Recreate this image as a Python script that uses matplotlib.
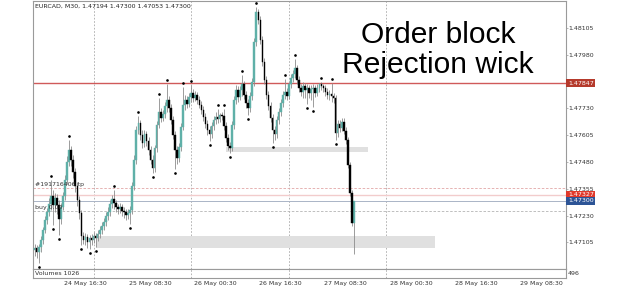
import numpy as np
import matplotlib
matplotlib.use('Agg')
import matplotlib.pyplot as plt
import matplotlib.transforms as mtransforms
from matplotlib.patches import Rectangle

# --- Data: EURCAD M30 candles ---
opens = [
    1.47069, 1.47078, 1.47059, 1.47083, 1.47116, 1.47162, 1.47209, 1.47246, 1.47283, 1.47321,
    1.47279, 1.47311, 1.47279, 1.47213, 1.47269, 1.47321, 1.47395, 1.47479, 1.47535, 1.47489,
    1.47433, 1.47367, 1.47302, 1.47241, 1.47134, 1.47116, 1.47129, 1.47106, 1.47125, 1.47116,
    1.47134, 1.47125, 1.47143, 1.47162, 1.47181, 1.47199, 1.47227, 1.47246, 1.47283, 1.47307,
    1.47288, 1.47269, 1.47260, 1.47269, 1.47251, 1.47246, 1.47232, 1.47241, 1.47255, 1.47367,
    1.47489, 1.47629, 1.47662, 1.47606, 1.47568, 1.47610, 1.47577, 1.47535, 1.47489, 1.47451,
    1.47545, 1.47652, 1.47713, 1.47685, 1.47704, 1.47741, 1.47769, 1.47732, 1.47676, 1.47606,
    1.47535, 1.47498, 1.47549, 1.47643, 1.47746, 1.47769, 1.47750, 1.47783, 1.47802, 1.47778,
    1.47792, 1.47769, 1.47746, 1.47722, 1.47690, 1.47657, 1.47629, 1.47610, 1.47648, 1.47676,
    1.47690, 1.47680, 1.47699, 1.47694, 1.47648, 1.47592, 1.47554, 1.47545, 1.47652, 1.47769,
    1.47816, 1.47783, 1.47816, 1.47844, 1.47792, 1.47755, 1.47732, 1.47788, 1.47853, 1.48040,
    1.48180, 1.48143, 1.48049, 1.47946, 1.47862, 1.47792, 1.47741, 1.47685, 1.47629, 1.47610,
    1.47676, 1.47713, 1.47755, 1.47792, 1.47806, 1.47788, 1.47844, 1.47872, 1.47890, 1.47918,
    1.47862, 1.47825, 1.47806, 1.47834, 1.47816, 1.47825, 1.47802, 1.47820, 1.47825, 1.47802,
    1.47825, 1.47844, 1.47834, 1.47825, 1.47806, 1.47792, 1.47797, 1.47788, 1.47778, 1.47615,
    1.47657, 1.47638, 1.47666, 1.47624, 1.47582, 1.47465, 1.47335, 1.47194,
]
closes = [
    1.47078, 1.47059, 1.47083, 1.47116, 1.47162, 1.47209, 1.47246, 1.47283, 1.47321, 1.47279,
    1.47311, 1.47279, 1.47213, 1.47269, 1.47321, 1.47395, 1.47479, 1.47535, 1.47489, 1.47433,
    1.47367, 1.47302, 1.47241, 1.47134, 1.47116, 1.47129, 1.47106, 1.47125, 1.47116, 1.47134,
    1.47125, 1.47143, 1.47162, 1.47181, 1.47199, 1.47227, 1.47246, 1.47283, 1.47307, 1.47288,
    1.47269, 1.47260, 1.47269, 1.47251, 1.47246, 1.47232, 1.47241, 1.47255, 1.47367, 1.47489,
    1.47629, 1.47662, 1.47606, 1.47568, 1.47610, 1.47577, 1.47535, 1.47489, 1.47451, 1.47545,
    1.47652, 1.47713, 1.47685, 1.47704, 1.47741, 1.47769, 1.47732, 1.47676, 1.47606, 1.47535,
    1.47498, 1.47549, 1.47643, 1.47746, 1.47769, 1.47750, 1.47783, 1.47802, 1.47778, 1.47792,
    1.47769, 1.47746, 1.47722, 1.47690, 1.47657, 1.47629, 1.47610, 1.47648, 1.47676, 1.47690,
    1.47680, 1.47699, 1.47694, 1.47648, 1.47592, 1.47554, 1.47545, 1.47652, 1.47769, 1.47816,
    1.47783, 1.47816, 1.47844, 1.47792, 1.47755, 1.47732, 1.47788, 1.47853, 1.48040, 1.48180,
    1.48143, 1.48049, 1.47946, 1.47862, 1.47792, 1.47741, 1.47685, 1.47629, 1.47610, 1.47676,
    1.47713, 1.47755, 1.47792, 1.47806, 1.47788, 1.47844, 1.47872, 1.47890, 1.47918, 1.47862,
    1.47825, 1.47806, 1.47834, 1.47816, 1.47825, 1.47802, 1.47820, 1.47825, 1.47802, 1.47825,
    1.47844, 1.47834, 1.47825, 1.47806, 1.47792, 1.47797, 1.47788, 1.47778, 1.47615, 1.47657,
    1.47638, 1.47666, 1.47624, 1.47582, 1.47465, 1.47335, 1.47194, 1.47300,
]
highs = [
    1.47097, 1.47092, 1.47097, 1.47134, 1.47176, 1.47227, 1.47265, 1.47311, 1.47395, 1.47349,
    1.47335, 1.47330, 1.47302, 1.47288, 1.47339, 1.47419, 1.47507, 1.47582, 1.47554, 1.47512,
    1.47451, 1.47386, 1.47321, 1.47255, 1.47153, 1.47148, 1.47143, 1.47139, 1.47143, 1.47153,
    1.47148, 1.47162, 1.47181, 1.47199, 1.47218, 1.47246, 1.47269, 1.47302, 1.47325, 1.47349,
    1.47302, 1.47283, 1.47288, 1.47283, 1.47269, 1.47260, 1.47260, 1.47274, 1.47386, 1.47512,
    1.47648, 1.47694, 1.47676, 1.47629, 1.47629, 1.47624, 1.47596, 1.47554, 1.47512, 1.47559,
    1.47671, 1.47778, 1.47732, 1.47722, 1.47760, 1.47844, 1.47788, 1.47750, 1.47694, 1.47624,
    1.47554, 1.47568, 1.47662, 1.47830, 1.47792, 1.47788, 1.47802, 1.47839, 1.47820, 1.47811,
    1.47806, 1.47788, 1.47764, 1.47741, 1.47709, 1.47676, 1.47648, 1.47666, 1.47694, 1.47713,
    1.47727, 1.47709, 1.47713, 1.47727, 1.47666, 1.47610, 1.47573, 1.47671, 1.47788, 1.47839,
    1.47834, 1.47834, 1.47886, 1.47858, 1.47811, 1.47774, 1.47806, 1.47872, 1.48059, 1.48203,
    1.48194, 1.48161, 1.48068, 1.47965, 1.47881, 1.47811, 1.47760, 1.47704, 1.47648, 1.47694,
    1.47732, 1.47774, 1.47811, 1.47867, 1.47825, 1.47853, 1.47890, 1.47909, 1.47960, 1.47932,
    1.47881, 1.47844, 1.47853, 1.47848, 1.47844, 1.47839, 1.47839, 1.47844, 1.47839, 1.47844,
    1.47848, 1.47853, 1.47844, 1.47839, 1.47825, 1.47816, 1.47848, 1.47802, 1.47792, 1.47676,
    1.47676, 1.47685, 1.47685, 1.47643, 1.47596, 1.47479, 1.47349, 1.47300,
]
lows = [
    1.47041, 1.47031, 1.47008, 1.47059, 1.47097, 1.47148, 1.47190, 1.47227, 1.47255, 1.47185,
    1.47246, 1.47237, 1.47139, 1.47190, 1.47255, 1.47302, 1.47377, 1.47461, 1.47461, 1.47405,
    1.47339, 1.47274, 1.47213, 1.47092, 1.47097, 1.47092, 1.47078, 1.47073, 1.47092, 1.47101,
    1.47083, 1.47111, 1.47125, 1.47143, 1.47162, 1.47181, 1.47209, 1.47227, 1.47265, 1.47260,
    1.47246, 1.47237, 1.47241, 1.47227, 1.47218, 1.47209, 1.47213, 1.47190, 1.47237, 1.47349,
    1.47470, 1.47610, 1.47582, 1.47545, 1.47549, 1.47554, 1.47512, 1.47470, 1.47428, 1.47433,
    1.47526, 1.47638, 1.47666, 1.47671, 1.47685, 1.47713, 1.47713, 1.47657, 1.47587, 1.47447,
    1.47470, 1.47479, 1.47531, 1.47629, 1.47722, 1.47732, 1.47736, 1.47760, 1.47760, 1.47764,
    1.47750, 1.47732, 1.47704, 1.47671, 1.47638, 1.47606, 1.47577, 1.47592, 1.47629, 1.47657,
    1.47662, 1.47666, 1.47676, 1.47629, 1.47573, 1.47535, 1.47521, 1.47531, 1.47634, 1.47750,
    1.47760, 1.47769, 1.47788, 1.47774, 1.47732, 1.47699, 1.47713, 1.47769, 1.47834, 1.48021,
    1.48124, 1.48031, 1.47928, 1.47844, 1.47774, 1.47722, 1.47666, 1.47568, 1.47582, 1.47592,
    1.47657, 1.47694, 1.47736, 1.47774, 1.47769, 1.47774, 1.47825, 1.47853, 1.47872, 1.47844,
    1.47806, 1.47788, 1.47778, 1.47778, 1.47750, 1.47778, 1.47769, 1.47736, 1.47783, 1.47788,
    1.47806, 1.47816, 1.47806, 1.47788, 1.47774, 1.47769, 1.47760, 1.47755, 1.47582, 1.47596,
    1.47620, 1.47624, 1.47610, 1.47563, 1.47451, 1.47321, 1.47181, 1.47053,
]

# fractal markers (bar numbers)
fractal_up = [8, 17, 39, 51, 61, 65, 73, 77, 90, 93, 102, 109, 123, 128, 141, 146]
fractal_down = [2, 9, 12, 23, 27, 30, 47, 58, 69, 86, 96, 105, 117, 134, 137, 148]

# levels
resistance = 1.47847
tp_level = 1.47357
ask_price = 1.47327
bid_price = 1.47300
buy_level = 1.47250

# order block boxes: (first bar, last bar, top price, bottom price)
ob_upper = (94, 164, 1.47551, 1.47528)
ob_lower = (30, 197, 1.47133, 1.47078)

price_ticks = [1.48105, 1.47980, 1.47730, 1.47605, 1.47480, 1.47355, 1.47230, 1.47105]
time_ticks = [25, 57, 89, 121, 153, 185, 217, 249]
time_labels = ['24 May 16:30', '25 May 08:30', '26 May 00:30', '26 May 16:30',
               '27 May 08:30', '28 May 00:30', '28 May 16:30', '29 May 08:30']
day_lines = [29, 77, 125, 173]

# --- Figure ---
W, H = 625, 289
fig = plt.figure(figsize=(W / 100, H / 100), dpi=100)
fig.patch.set_facecolor('white')

def px_rect(x0, y0, x1, y1):
    return [x0 / W, 1 - y1 / H, (x1 - x0) / W, (y1 - y0) / H]

ax = fig.add_axes(px_rect(33, 1, 566, 269.3))
axv = fig.add_axes(px_rect(33, 269.3, 566, 277.5))

XLIM = (-0.8, 261.3)
ax.set_xlim(*XLIM)
ax.set_ylim(1.46980, 1.48231)
axv.set_xlim(*XLIM)
axv.set_ylim(0, 1)

FS = 4.5
frame = '#9a9a9a'
for a in (ax, axv):
    for s in a.spines.values():
        s.set_color(frame)
        s.set_linewidth(0.8)

# day separators
for d in day_lines:
    for a in (ax, axv):
        a.axvline(d, color='#a8a8a8', lw=0.6, ls=(0, (2, 2)), zorder=1)

# order blocks
for b in (ob_upper, ob_lower):
    ax.add_patch(Rectangle((b[0], b[3]), b[1] - b[0], b[2] - b[3],
                           facecolor='#e0e0e0', edgecolor='none', zorder=1))

# horizontal lines
ax.axhline(resistance, color='#d05a5a', lw=1.0, zorder=2)
ax.axhline(tp_level, color='#e2a6a6', lw=0.6, ls=(0, (3, 2)), zorder=2)
ax.axhline(ask_price, color='#f2cccc', lw=1.0, zorder=2)
ax.axhline(bid_price, color='#aab4c6', lw=0.7, zorder=2)
ax.axhline(buy_level, color='#b4b4b4', lw=0.6, ls=(0, (3, 2)), zorder=2)

# candles
o = np.array(opens)
c = np.array(closes)
h = np.array(highs)
l = np.array(lows)
idx = np.arange(len(c))
up = c >= o
ax.vlines(idx, l, h, color='#8c8c8c', lw=0.6, zorder=3)
ax.bar(idx[up], c[up] - o[up], bottom=o[up], width=0.8, color='#5fb0a8',
       edgecolor='#5fb0a8', lw=0.3, zorder=4)
ax.bar(idx[~up], c[~up] - o[~up], bottom=o[~up], width=0.8, color='black',
       edgecolor='black', lw=0.3, zorder=4)

# fractals
tr_up = mtransforms.offset_copy(ax.transData, fig=fig, y=4, units='dots')
tr_dn = mtransforms.offset_copy(ax.transData, fig=fig, y=-4, units='dots')
ax.plot(fractal_up, h[fractal_up], 'o', ms=0.9, color='black', transform=tr_up, zorder=5)
ax.plot(fractal_down, l[fractal_down], 'o', ms=0.9, color='black', transform=tr_dn, zorder=5)

# ticks
ax.yaxis.tick_right()
ax.set_yticks(price_ticks)
ax.set_yticklabels([f'{p:.5f}' for p in price_ticks], fontsize=FS, color='#333333')
ax.tick_params(axis='y', length=1.5, width=0.5, pad=0.5, color=frame)
ax.set_xticks([])
axv.set_yticks([])
axv.set_xticks(time_ticks)
axv.set_xticklabels(time_labels, fontsize=FS, color='#333333')
axv.tick_params(axis='x', length=0, pad=2.2)

# price label boxes at right
trans = mtransforms.blended_transform_factory(ax.transAxes, ax.transData)
for val, col in ((resistance, '#b53a2c'), (ask_price, '#e0392b'), (bid_price, '#2d5496')):
    ax.text(1.0035, val, f'{val:.5f}', transform=trans, ha='left', va='center',
            fontsize=FS, color='white', clip_on=False, zorder=10,
            bbox=dict(boxstyle='square,pad=0.22', fc=col, ec='none'))

# texts
fig.text(35 / W, 1 - 6.5 / H, 'EURCAD, M30, 1.47194 1.47300 1.47053 1.47300',
         fontsize=FS, color='#222222', va='center', ha='left')
ax.text(0.0, tp_level, '#191716406 tp', transform=mtransforms.offset_copy(trans, fig=fig, x=2, y=1.5, units='dots'),
        fontsize=FS, color='#333333', va='bottom', ha='left', zorder=6)
ax.text(0.0, buy_level, 'buy 0.00', transform=mtransforms.offset_copy(trans, fig=fig, x=2, y=1, units='dots'),
        fontsize=FS, color='#333333', va='bottom', ha='left', zorder=6)
axv.text(0.003, 0.5, 'Volumes 1026', transform=axv.transAxes, fontsize=FS,
         color='#333333', va='center', ha='left')
axv.text(1.004, 0.5, '496', transform=axv.transAxes, fontsize=FS,
         color='#333333', va='center', ha='left', clip_on=False)

# annotation
fig.text(438 / W, 1 - 43.3 / H, 'Order block', fontsize=21.6, family='Liberation Sans',
         ha='center', va='baseline', color='black')
fig.text(438 / W, 1 - 73 / H, 'Rejection wick', fontsize=21.6, family='Liberation Sans',
         ha='center', va='baseline', color='black')

fig.savefig('out.png', dpi=100, facecolor='white')
